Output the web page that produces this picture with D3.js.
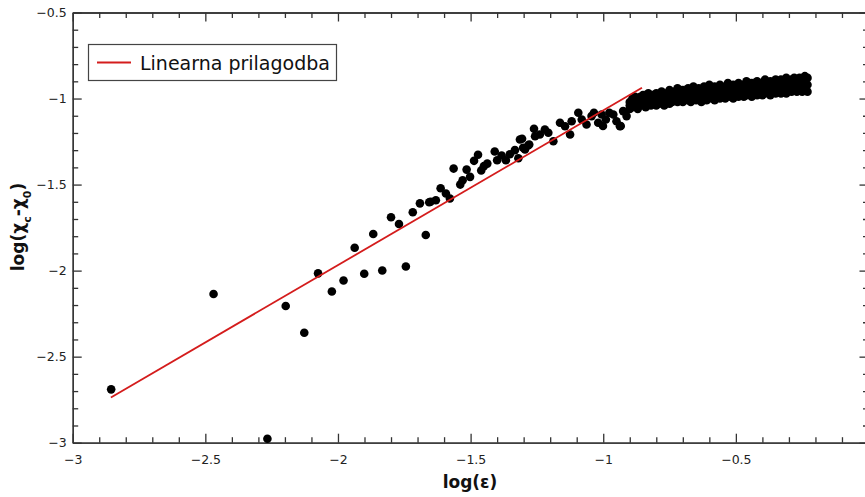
<!DOCTYPE html>
<html>
<head>
<meta charset="utf-8">
<script src="https://cdn.jsdelivr.net/npm/d3@7"></script>
<style>
  html, body { margin: 0; padding: 0; background: #fff; }
  svg { display: block; }
</style>
</head>
<body>
<svg id="chart" width="865" height="497"></svg>
<script>
// ---------------- data ----------------
const xMajorTicks = [-3, -2.5, -2, -1.5, -1, -0.5, 0];
const yMajorTicks = [-3, -2.5, -2, -1.5, -1, -0.5];
const xTickLabels = ["\u22123", "\u22122.5", "\u22122", "\u22121.5", "\u22121", "\u22120.5", "0"];
const yTickLabels = ["\u22123", "\u22122.5", "\u22122", "\u22121.5", "\u22121", "\u22120.5"];

// sparse points at small epsilon
const sparsePoints = [
  [-2.855, -2.690], [-2.469, -2.136], [-2.266, -2.977], [-2.197, -2.206],
  [-2.127, -2.361], [-2.075, -2.016], [-2.023, -2.121], [-1.979, -2.057],
  [-1.937, -1.867], [-1.901, -2.018], [-1.867, -1.787], [-1.833, -1.999],
  [-1.800, -1.690], [-1.770, -1.729], [-1.744, -1.976], [-1.718, -1.661],
  [-1.691, -1.609], [-1.669, -1.793], [-1.656, -1.603]
];

// transition region
const midPoints = [
  [-1.651, -1.600], [-1.631, -1.591], [-1.613, -1.521], [-1.593, -1.552],
  [-1.578, -1.581], [-1.564, -1.407], [-1.539, -1.500], [-1.530, -1.475],
  [-1.515, -1.413], [-1.502, -1.455], [-1.487, -1.362], [-1.472, -1.327],
  [-1.460, -1.418], [-1.450, -1.393], [-1.437, -1.378], [-1.409, -1.308],
  [-1.400, -1.359], [-1.383, -1.331], [-1.367, -1.359], [-1.352, -1.324],
  [-1.333, -1.300], [-1.320, -1.347], [-1.314, -1.238], [-1.306, -1.234],
  [-1.302, -1.286], [-1.295, -1.296], [-1.283, -1.273], [-1.279, -1.267],
  [-1.261, -1.176], [-1.257, -1.219], [-1.239, -1.209], [-1.220, -1.180],
  [-1.207, -1.199], [-1.188, -1.248], [-1.163, -1.141], [-1.144, -1.161],
  [-1.125, -1.209], [-1.119, -1.132], [-1.094, -1.083], [-1.081, -1.122],
  [-1.063, -1.151], [-1.044, -1.102], [-1.035, -1.083], [-1.019, -1.141],
  [-1.006, -1.093], [-1.001, -1.160], [-0.990, -1.122], [-0.977, -1.083],
  [-0.962, -1.093], [-0.950, -1.132], [-0.937, -1.161], [-0.934, -1.160],
  [-0.925, -1.073], [-0.912, -1.102]
];

// dense plateau band: x, upper, middle and lower values
const bandX = [-0.90,-0.89,-0.88,-0.87,-0.86,-0.85,-0.84,-0.83,-0.82,-0.81,
  -0.80,-0.79,-0.78,-0.77,-0.76,-0.75,-0.74,-0.73,-0.72,-0.71,
  -0.70,-0.69,-0.68,-0.67,-0.66,-0.65,-0.64,-0.63,-0.62,-0.61,
  -0.60,-0.59,-0.58,-0.57,-0.56,-0.55,-0.54,-0.53,-0.52,-0.51,
  -0.50,-0.49,-0.48,-0.47,-0.46,-0.45,-0.44,-0.43,-0.42,-0.41,
  -0.40,-0.39,-0.38,-0.37,-0.36,-0.35,-0.34,-0.33,-0.32,-0.31,
  -0.30,-0.29,-0.28,-0.27,-0.26,-0.25,-0.24,-0.23];
const bandUpper = [-1.02,-1.00,-0.99,-1.01,-0.99,-0.98,-1.00,-0.97,-0.99,-0.98,
  -0.97,-0.99,-0.96,-0.98,-0.97,-0.95,-0.97,-0.96,-0.94,-0.96,
  -0.95,-0.97,-0.94,-0.95,-0.93,-0.96,-0.94,-0.95,-0.93,-0.94,
  -0.92,-0.95,-0.93,-0.94,-0.92,-0.94,-0.93,-0.91,-0.94,-0.92,
  -0.93,-0.91,-0.93,-0.92,-0.90,-0.93,-0.91,-0.92,-0.90,-0.92,
  -0.91,-0.89,-0.92,-0.90,-0.91,-0.89,-0.91,-0.89,-0.90,-0.88,
  -0.90,-0.89,-0.88,-0.90,-0.88,-0.89,-0.87,-0.88];
const bandMiddle = [-1.04,-1.03,-1.02,-1.03,-1.01,-1.00,-1.02,-1.00,-1.01,-1.00,
  -1.00,-1.01,-0.99,-1.01,-0.99,-0.99,-1.00,-0.98,-0.98,-0.99,
  -0.98,-0.99,-0.97,-0.98,-0.96,-0.98,-0.97,-0.98,-0.96,-0.97,
  -0.95,-0.97,-0.97,-0.96,-0.96,-0.96,-0.96,-0.95,-0.96,-0.96,
  -0.95,-0.95,-0.95,-0.95,-0.94,-0.95,-0.95,-0.94,-0.94,-0.94,
  -0.94,-0.93,-0.94,-0.94,-0.93,-0.93,-0.93,-0.93,-0.93,-0.92,
  -0.92,-0.92,-0.91,-0.93,-0.91,-0.92,-0.91,-0.92];
const bandLower = [-1.06,-1.05,-1.04,-1.06,-1.04,-1.03,-1.05,-1.03,-1.04,-1.02,
  -1.04,-1.03,-1.02,-1.04,-1.01,-1.03,-1.02,-1.00,-1.02,-1.01,
  -1.02,-1.00,-1.01,-1.02,-0.99,-1.01,-1.00,-1.02,-0.99,-1.01,
  -0.99,-1.00,-1.01,-0.98,-1.00,-0.99,-1.00,-0.98,-0.99,-1.00,
  -0.98,-0.99,-0.97,-0.99,-0.98,-0.97,-0.99,-0.97,-0.98,-0.96,
  -0.98,-0.97,-0.96,-0.98,-0.96,-0.97,-0.95,-0.97,-0.96,-0.97,
  -0.95,-0.96,-0.94,-0.96,-0.95,-0.96,-0.95,-0.96];

// linear fit
const fitX = [-2.856, -0.854];
const fitSlope = 0.899;
const fitIntercept = -0.170;
const legendLabel = "Linearna prilagodba";

// ---------------- chart ----------------
const svg = d3.select("#chart");
const x = d3.scaleLinear().domain([-3, 0]).range([72.7, 868.5]);
const y = d3.scaleLinear().domain([-3, -0.5]).range([442.7, 12.5]);

const minorX = d3.range(-30, 1).map(i => i / 10).filter(v => Math.abs(v * 2 - Math.round(v * 2)) > 1e-6);
const minorY = d3.range(-30, -4).map(i => i / 10).filter(v => Math.abs(v * 2 - Math.round(v * 2)) > 1e-6);

const axisColor = "#333";
const tickFont = "'DejaVu Sans', Verdana, sans-serif";

function styleAxis(g) {
  g.selectAll("path.domain").attr("stroke", axisColor).attr("stroke-width", 1.3);
  g.selectAll("line").attr("stroke", axisColor).attr("stroke-width", 1.3);
  g.selectAll("text").attr("fill", "#222").style("font-family", tickFont).style("font-size", "12.5px");
}

// bottom
svg.append("g").attr("transform", `translate(0,${y(-3)})`)
  .call(d3.axisBottom(x).tickValues(xMajorTicks).tickSizeInner(-9).tickSizeOuter(0).tickPadding(12)
    .tickFormat((d, i) => xTickLabels[i]))
  .call(styleAxis);
svg.append("g").attr("transform", `translate(0,${y(-3)})`)
  .call(d3.axisBottom(x).tickValues(minorX).tickSizeInner(-5.5).tickSizeOuter(0).tickFormat(""))
  .call(styleAxis);
// top
svg.append("g").attr("transform", `translate(0,${y(-0.5)})`)
  .call(d3.axisTop(x).tickValues(xMajorTicks).tickSizeInner(-9).tickSizeOuter(0).tickFormat(""))
  .call(styleAxis);
svg.append("g").attr("transform", `translate(0,${y(-0.5)})`)
  .call(d3.axisTop(x).tickValues(minorX).tickSizeInner(-5.5).tickSizeOuter(0).tickFormat(""))
  .call(styleAxis);
// left
svg.append("g").attr("transform", `translate(${x(-3)},0)`)
  .call(d3.axisLeft(y).tickValues(yMajorTicks).tickSizeInner(-9).tickSizeOuter(0).tickPadding(6)
    .tickFormat((d, i) => yTickLabels[i]))
  .call(styleAxis);
svg.append("g").attr("transform", `translate(${x(-3)},0)`)
  .call(d3.axisLeft(y).tickValues(minorY).tickSizeInner(-5.5).tickSizeOuter(0).tickFormat(""))
  .call(styleAxis);
// right
svg.append("g").attr("transform", `translate(${x(0)},0)`)
  .call(d3.axisRight(y).tickValues(yMajorTicks).tickSizeInner(-9).tickSizeOuter(0).tickFormat(""))
  .call(styleAxis);
svg.append("g").attr("transform", `translate(${x(0)},0)`)
  .call(d3.axisRight(y).tickValues(minorY).tickSizeInner(-5.5).tickSizeOuter(0).tickFormat(""))
  .call(styleAxis);

// points
const bandPoints = [];
bandX.forEach((bx, i) => {
  bandPoints.push([bx, bandUpper[i]]);
  bandPoints.push([bx, bandMiddle[i]]);
  bandPoints.push([bx, bandLower[i]]);
});
const allPoints = sparsePoints.concat(midPoints, bandPoints);

svg.append("g").selectAll("circle").data(allPoints).join("circle")
  .attr("cx", d => x(d[0])).attr("cy", d => y(d[1])).attr("r", 4.3).attr("fill", "#000");

// fit line
svg.append("line")
  .attr("x1", x(fitX[0])).attr("y1", y(fitSlope * fitX[0] + fitIntercept))
  .attr("x2", x(fitX[1])).attr("y2", y(fitSlope * fitX[1] + fitIntercept))
  .attr("stroke", "#d41c1c").attr("stroke-width", 1.8);

// legend
const lg = svg.append("g");
lg.append("rect").attr("x", 88.5).attr("y", 44.5).attr("width", 248).attr("height", 36)
  .attr("fill", "#fff").attr("stroke", "#444").attr("stroke-width", 1.2);
lg.append("line").attr("x1", 97).attr("x2", 131).attr("y1", 62.5).attr("y2", 62.5)
  .attr("stroke", "#d41c1c").attr("stroke-width", 2);
lg.append("text").attr("x", 140).attr("y", 69.5).text(legendLabel)
  .style("font-family", tickFont).style("font-size", "19px").attr("fill", "#111");

// axis titles
svg.append("text").attr("x", 470).attr("y", 488).attr("text-anchor", "middle")
  .style("font-family", tickFont).style("font-weight", "bold").style("font-size", "17px")
  .attr("fill", "#111").text("log(\u03b5)");

const yt = svg.append("text").attr("transform", "translate(24,227) rotate(-90)")
  .attr("text-anchor", "middle")
  .style("font-family", tickFont).style("font-weight", "bold").style("font-size", "17px")
  .attr("fill", "#111");
yt.append("tspan").text("log(\u03c7");
yt.append("tspan").text("c").attr("baseline-shift", "sub").style("font-size", "11px");
yt.append("tspan").text("-\u03c7");
yt.append("tspan").text("0").attr("baseline-shift", "sub").style("font-size", "11px");
yt.append("tspan").text(")");
</script>
</body>
</html>
